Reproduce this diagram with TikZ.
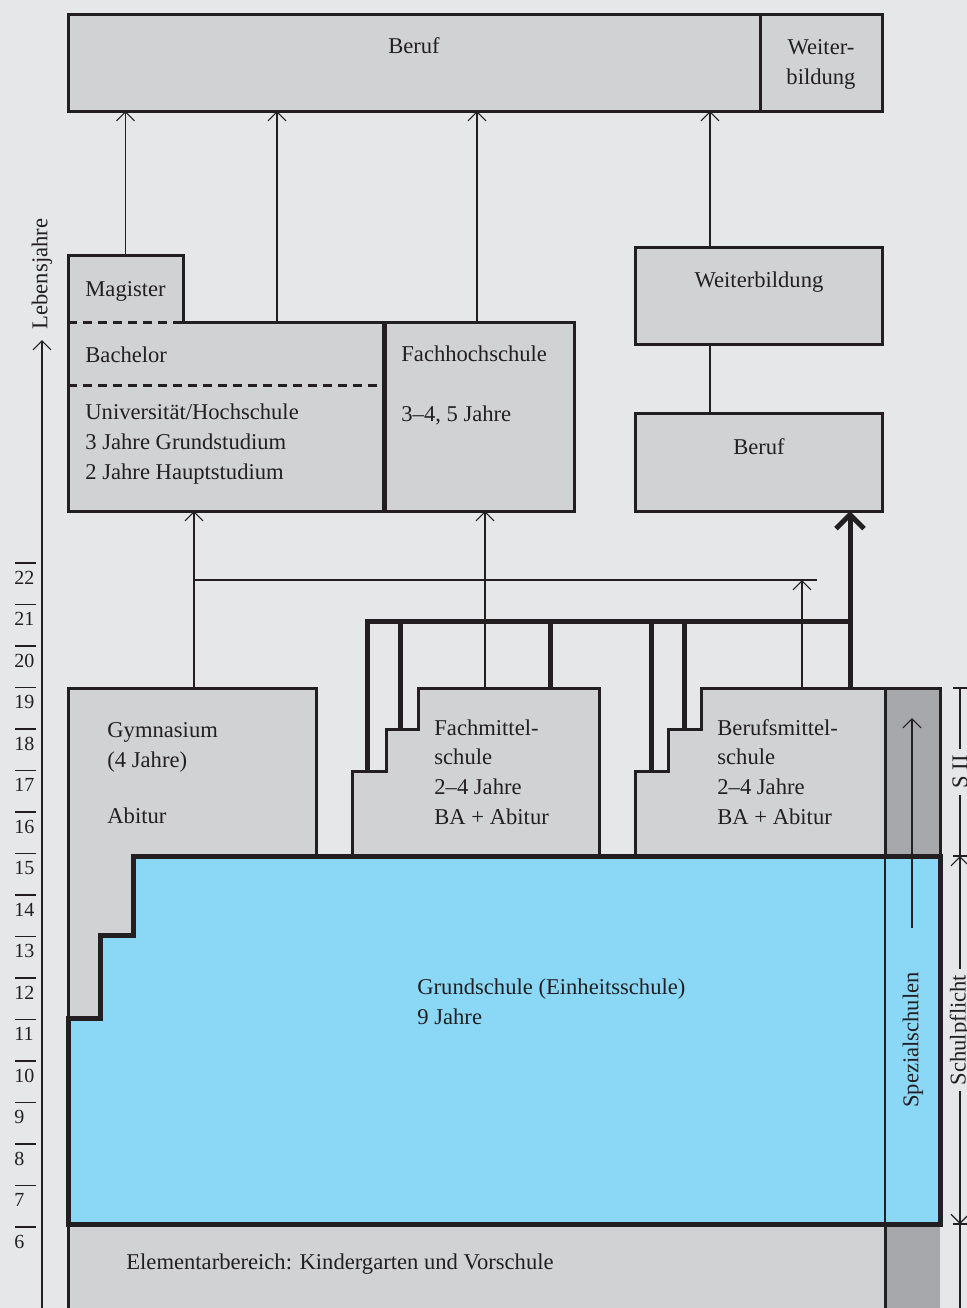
\documentclass[tikz,border=0pt]{standalone}
\usepackage{fontspec}
\setmainfont{Liberation Serif}
\usetikzlibrary{arrows.meta,fit,calc}
\definecolor{bggray}{HTML}{E6E7E8}
\definecolor{boxgray}{HTML}{D1D2D4}
\definecolor{spezgray}{HTML}{A7A8AB}
\definecolor{schoolblue}{HTML}{8AD7F6}
\definecolor{ink}{HTML}{231F20}
\tikzset{
  box/.style={draw=ink, fill=boxgray, line width=1.5pt, inner sep=0pt, outer sep=0pt},
  boxfill/.style={fill=boxgray, inner sep=0pt, outer sep=0pt},
  schoolshape/.style={draw=ink, fill=boxgray, line width=1.5pt},
  blueshape/.style={draw=ink, fill=schoolblue, line width=2.5pt},
  txt/.style={anchor=base west, align=left, inner sep=0pt, text=ink},
  ctxt/.style={anchor=base, align=center, inner sep=0pt, text=ink},
  thinline/.style={draw=ink, line width=0.6pt},
  thinarrow/.style={thinline, -{Straight Barb[length=4.5pt,width=9pt]}},
  bracket/.style={draw=ink, line width=2.5pt},
  dashline/.style={draw=ink, line width=1.5pt, dash pattern=on 4.5pt off 3pt},
}
\begin{document}
\begin{tikzpicture}[x=0.5pt, y=-0.5pt, font=\fontsize{11.3}{14.8}\selectfont]
\useasboundingbox (0,0) rectangle (967,1308);
\fill[bggray] (0,0) rectangle (967,1308);

% top row
\node[box, fit={(68,14) (760,111)}] (beruftop) {};
\node[box, fit={(760,14) (882,111)}] (weitertop) {};
\node[ctxt] (beruftoptext) at (414,53) {Beruf};
\node[ctxt] (weitertoptext) at (821,84) {Weiter-\\bildung};

% hochschulen
\node[boxfill, fit={(68,255) (183,322)}] (magister) {};
\node[boxfill, fit={(68,322) (383,511)}] (uni) {};
\node[box, fit={(385,322) (574,511)}] (fh) {};
\draw[line width=1.5pt, ink] (magister.south east) -- (magister.north east) -- (magister.north west)
  -- (uni.south west) -- (uni.south east) -- (uni.north east) -- cycle;
\coordinate (unidash) at (68,385);
\draw[dashline] (magister.south west) -- (magister.south east);
\draw[dashline] (unidash) -- (unidash -| uni.east);
\node[txt] (magistertext) at (85,296) {Magister};
\node[txt] (bachelortext) at (85,362) {Bachelor};
\node[txt] (unitext) at (85,479) {Universität/Hochschule\\3 Jahre Grundstudium\\2 Jahre Hauptstudium};
\node[txt] (fhtext) at (401,421) {Fachhochschule\\[14.8pt]3–4, 5 Jahre};

% beruf rechts
\node[box, fit={(635,247) (882,344)}] (weiter) {};
\node[box, fit={(635,413) (882,511)}] (beruf) {};
\node[ctxt] (weitertext) at (759,287) {Weiterbildung};
\node[ctxt] (beruftext) at (759,454) {Beruf};

\coordinate (bachup) at (277,322);
\coordinate (fhup) at (477,322);
\coordinate (weiterup) at (710,247);
\draw[thinarrow] (magister.north) -- (magister.north |- beruftop.south);
\draw[thinarrow] (bachup) -- (bachup |- beruftop.south);
\draw[thinarrow] (fhup) -- (fhup |- beruftop.south);
\draw[thinarrow] (weiterup) -- (weiterup |- beruftop.south);
\draw[thinline] (weiterup |- weiter.south) -- (weiterup |- beruf.north);

% sekundarstufe
\fill[spezgray] (885,1224) rectangle (940,1310);
\draw[box] (68,1310) -- (68,1224) -- (885,1224) -- (885,1310);
\draw[schoolshape] (68,688) -- (316,688) -- (316,856) -- (133,856) -- (133,935) -- (100,935) -- (100,1018) -- (68,1018) -- cycle;
\draw[schoolshape] (352,856) -- (352,771) -- (386,771) -- (386,729) -- (418,729) -- (418,688) -- (599,688) -- (599,856) -- cycle;
\draw[schoolshape] (635,856) -- (635,771) -- (668,771) -- (668,729) -- (701,729) -- (701,688) -- (885,688) -- (885,856) -- cycle;
\draw[schoolshape, fill=spezgray] (885,688) rectangle (940,856);
\draw[blueshape] (133,856) -- (940,856) -- (940,1224) -- (68,1224) -- (68,1018) -- (100,1018) -- (100,935) -- (133,935) -- cycle;
\draw[draw=ink, line width=1.2pt] (885,688) -- (885,1310);

\node[txt] (gymtext) at (107,823) {Gymnasium\\(4 Jahre)\\[13pt]Abitur};
\node[txt] (fmstext) at (434,824) {Fachmittel-\\schule\\2–4 Jahre\\BA + Abitur};
\node[txt] (bmstext) at (717,824) {Berufsmittel-\\schule\\2–4 Jahre\\BA + Abitur};
\node[txt] (grundtext) at (417,1024) {Grundschule (Einheitsschule)\\9 Jahre};
\node[txt] (elemtext) at (126,1269) {Elementarbereich: Kindergarten und Vorschule};
\node[rotate=90, text=ink, inner sep=0pt] (speztext) at (913,1040) {Spezialschulen};
\draw[thinarrow] (912,928) -- (912,718);

% uebergaenge
\coordinate (gymup) at (194,688);
\coordinate (fmsup) at (485,688);
\coordinate (bmsup) at (802,688);
\coordinate (bigup) at (850,688);
\coordinate (crossr) at (817,580);
\draw[thinarrow] (gymup) -- (gymup |- uni.south);
\draw[thinline] (gymup |- crossr) -- (crossr);
\draw[thinarrow] (bmsup) -- (bmsup |- crossr);
\draw[thinarrow] (fmsup) -- (fmsup |- fh.south);
\draw[bracket] (367,771) -- (367,621) -- (850,621);
\draw[bracket] (400,729) -- (400,621);
\draw[bracket] (550,688) -- (550,621);
\draw[bracket] (651,771) -- (651,621);
\draw[bracket] (684,729) -- (684,621);
\draw[bracket, -{Straight Barb[length=7pt,width=14pt]}] (bigup) -- (bigup |- beruf.south);

% lebensjahre
\coordinate (axisbot) at (42,1310);
\coordinate (axistop) at (42,340);
\draw[thinarrow] (axisbot) -- (axistop);
\node[rotate=90, text=ink, inner sep=0pt] (lebensjahre) at (42,274) {Lebensjahre};
\foreach \a [evaluate=\a as \y using 1227-(\a-6)*41.5] in {6,...,22} {
  \draw[thinline] (15,\y) -- (36,\y);
  \node[txt, font=\fontsize{10}{12}\selectfont] (age\a) at (14,\y+21) {\a};
}

% schulstufen rechts
\draw[thinline] (953,688) -- (967,688);
\draw[thinline] (960,688) -- (960,856);
\draw[thinline] (953,856) -- (967,856);
\draw[thinline, {Straight Barb[length=4.5pt,width=9pt]}-{Straight Barb[length=4.5pt,width=9pt]}] (960,856) -- (960,1224);
\draw[thinline] (953,1224) -- (967,1224);
\draw[thinline] (960,1224) -- (960,1310);
\node[rotate=90, fill=bggray, text=ink, inner sep=3pt] (sii) at (960,772) {S II};
\node[rotate=90, fill=bggray, text=ink, inner sep=3pt] (pflicht) at (960,1030) {Schulpflicht};
\end{tikzpicture}
\end{document}
